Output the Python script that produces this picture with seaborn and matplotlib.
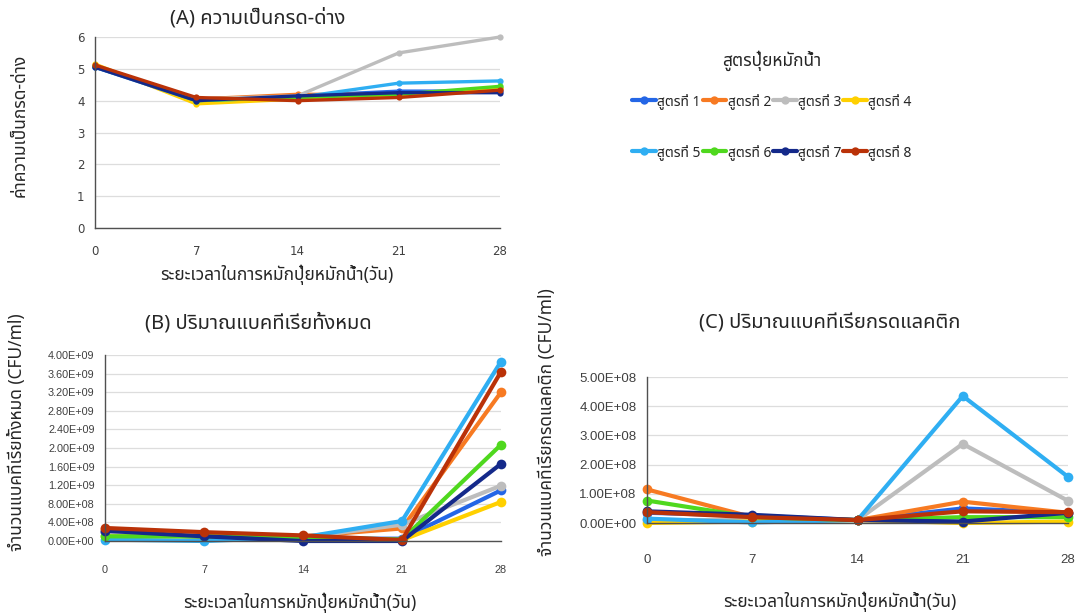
import matplotlib
matplotlib.use('Agg')
import matplotlib.pyplot as plt
from matplotlib.ticker import MultipleLocator, FuncFormatter
import seaborn as sns
import pandas as pd
import numpy as np

# ---- data ----
days = [0, 7, 14, 21, 28]
formulas = ['สูตรที่ 1', 'สูตรที่ 2', 'สูตรที่ 3', 'สูตรที่ 4',
            'สูตรที่ 5', 'สูตรที่ 6', 'สูตรที่ 7', 'สูตรที่ 8']
colors = ['#2466E6', '#F77A22', '#BDBDBD', '#FFD000',
          '#2FAEF2', '#4FD81E', '#14298A', '#BA3208']

# (A) pH
ph_values = [
    [5.05, 4.05, 4.15, 4.30, 4.30],
    [5.10, 4.05, 4.20, 4.20, 4.40],
    [5.10, 4.05, 4.15, 5.50, 6.00],
    [5.15, 3.90, 4.05, 4.15, 4.40],
    [5.05, 4.00, 4.10, 4.55, 4.62],
    [5.10, 4.00, 4.10, 4.20, 4.45],
    [5.05, 4.00, 4.15, 4.25, 4.25],
    [5.12, 4.10, 4.00, 4.10, 4.33],
]
# (B) total bacteria, x1e9 CFU/ml
total_bact = [
    [0.20, 0.08, 0.05, 0.05, 1.09],
    [0.25, 0.17, 0.10, 0.27, 3.20],
    [0.20, 0.12, 0.08, 0.35, 1.19],
    [0.10, 0.10, 0.06, 0.02, 0.84],
    [0.03, 0.00, 0.08, 0.43, 3.86],
    [0.10, 0.10, 0.08, 0.03, 2.07],
    [0.22, 0.10, 0.00, 0.00, 1.66],
    [0.28, 0.19, 0.12, 0.02, 3.64],
]
# (C) lactic acid bacteria, x1e8 CFU/ml
lactic_bact = [
    [0.35, 0.25, 0.10, 0.50, 0.35],
    [1.15, 0.20, 0.10, 0.73, 0.35],
    [0.10, 0.10, 0.10, 2.71, 0.76],
    [0.00, 0.05, 0.10, 0.00, 0.05],
    [0.15, 0.02, 0.10, 4.35, 1.58],
    [0.77, 0.20, 0.10, 0.20, 0.20],
    [0.40, 0.28, 0.10, 0.05, 0.35],
    [0.37, 0.20, 0.10, 0.40, 0.37],
]


def to_long(values, scale):
    rows = []
    for name, vals in zip(formulas, values):
        for d, v in zip(days, vals):
            rows.append({'day': d, 'formula': name, 'value': v * scale})
    return pd.DataFrame(rows)


sns.set_theme(style='white')
thai = ['Noto Sans Thai', 'DejaVu Sans']
plt.rcParams['font.family'] = thai

fig = plt.figure(figsize=(10.78, 6.14), dpi=100)
W, H = 1078, 614


def px_axes(x0, x1, ytop, ybot):
    return fig.add_axes([x0 / W, (H - ybot) / H, (x1 - x0) / W, (ybot - ytop) / H])


def style_axes(ax, ymax, ystep, tick_font, tick_size, xpad, fmt=None):
    ax.set_xlim(0, 28)
    ax.set_ylim(0, ymax)
    ax.xaxis.set_major_locator(MultipleLocator(3.5))
    ax.xaxis.set_major_formatter(FuncFormatter(lambda v, p: f"{int(v)}" if v % 7 == 0 else ""))
    ax.yaxis.set_major_locator(MultipleLocator(ystep))
    if fmt is not None:
        ax.yaxis.set_major_formatter(FuncFormatter(fmt))
    ax.grid(axis='y', color='#DDDDDD', linewidth=0.9)
    ax.grid(axis='x', visible=False)
    for s in ['top', 'right']:
        ax.spines[s].set_visible(False)
    for s in ['left', 'bottom']:
        ax.spines[s].set_color('#505050')
        ax.spines[s].set_linewidth(1.0)
    ax.tick_params(axis='both', direction='out', length=4, width=0.8, color='#505050',
                   labelcolor='#404040', labelsize=tick_size, labelfontfamily=tick_font)
    ax.tick_params(axis='x', pad=xpad)
    ax.set_xlabel('')
    ax.set_ylabel('')


def draw(ax, values, scale, lw, ms):
    df = to_long(values, scale)
    sns.lineplot(data=df, x='day', y='value', hue='formula', hue_order=formulas,
                 palette=colors, marker='o', markersize=ms, markeredgewidth=0,
                 linewidth=lw, ax=ax, legend=False, clip_on=False)


# (A)
axA = px_axes(95, 500, 37, 228)
draw(axA, ph_values, 1.0, 2.4, 4.5)
style_axes(axA, 6, 1, 'DejaVu Sans', 8.5, 8)

# (B)
axB = px_axes(105, 501, 355, 541)
draw(axB, total_bact, 1e9, 3.0, 7)
style_axes(axB, 4e9, 0.4e9, 'Liberation Sans', 7.8, 13, fmt=lambda v, p: f"{v:.2E}")

# (C)
axC = px_axes(647, 1068, 377, 523)
draw(axC, lactic_bact, 1e8, 3.0, 7)
style_axes(axC, 5e8, 1e8, 'Liberation Sans', 9.5, 18, fmt=lambda v, p: f"{v:.2E}")

# titles and axis labels
fig.text(258 / W, 1 - 18 / H, '(A) ความเป็นกรด-ด่าง', ha='center', va='center', fontsize=14.5)
fig.text(258 / W, 1 - 323 / H, '(B) ปริมาณแบคทีเรียทั้งหมด', ha='center', va='center', fontsize=14.5)
fig.text(830 / W, 1 - 324 / H, '(C) ปริมาณแบคทีเรียกรดแลคติก', ha='center', va='center', fontsize=14.5)

xlab = 'ระยะเวลาในการหมักปุ๋ยหมักน้ำ(วัน)'
fig.text(277 / W, 1 - 275 / H, xlab, ha='center', va='center', fontsize=12.5)
fig.text(300 / W, 1 - 603 / H, xlab, ha='center', va='center', fontsize=12.5)
fig.text(840 / W, 1 - 602 / H, xlab, ha='center', va='center', fontsize=12.5)

fig.text(20 / W, 1 - 125 / H, 'ค่าความเป็นกรด-ด่าง', rotation=90, ha='center', va='center', fontsize=12.5)
fig.text(17 / W, 1 - 432 / H, 'จำนวนแบคทีเรียทั้งหมด (CFU/ml)', rotation=90, ha='center', va='center', fontsize=12.5)
fig.text(547 / W, 1 - 422 / H, 'จำนวนแบคทีเรียกรดแลคติก (CFU/ml)', rotation=90, ha='center', va='center', fontsize=12.5)

# legend, filled row by row like the reference
lines = axA.get_lines()[:8]
order = [0, 4, 1, 5, 2, 6, 3, 7]
leg = fig.legend([lines[i] for i in order], [formulas[i] for i in order],
                 loc='upper center', bbox_to_anchor=(772 / W, 1 - 45 / H),
                 ncol=4, frameon=False, title='สูตรปุ๋ยหมักน้ำ', fontsize=10,
                 title_fontsize=12.5, handlelength=1.7, handletextpad=0.1,
                 columnspacing=0.15, labelspacing=2.5, borderaxespad=0)
for h in leg.legend_handles:
    h.set_linewidth(3)
    h.set_markersize(6)
leg._legend_box.sep = 16

fig.savefig('out.png', dpi=100)
